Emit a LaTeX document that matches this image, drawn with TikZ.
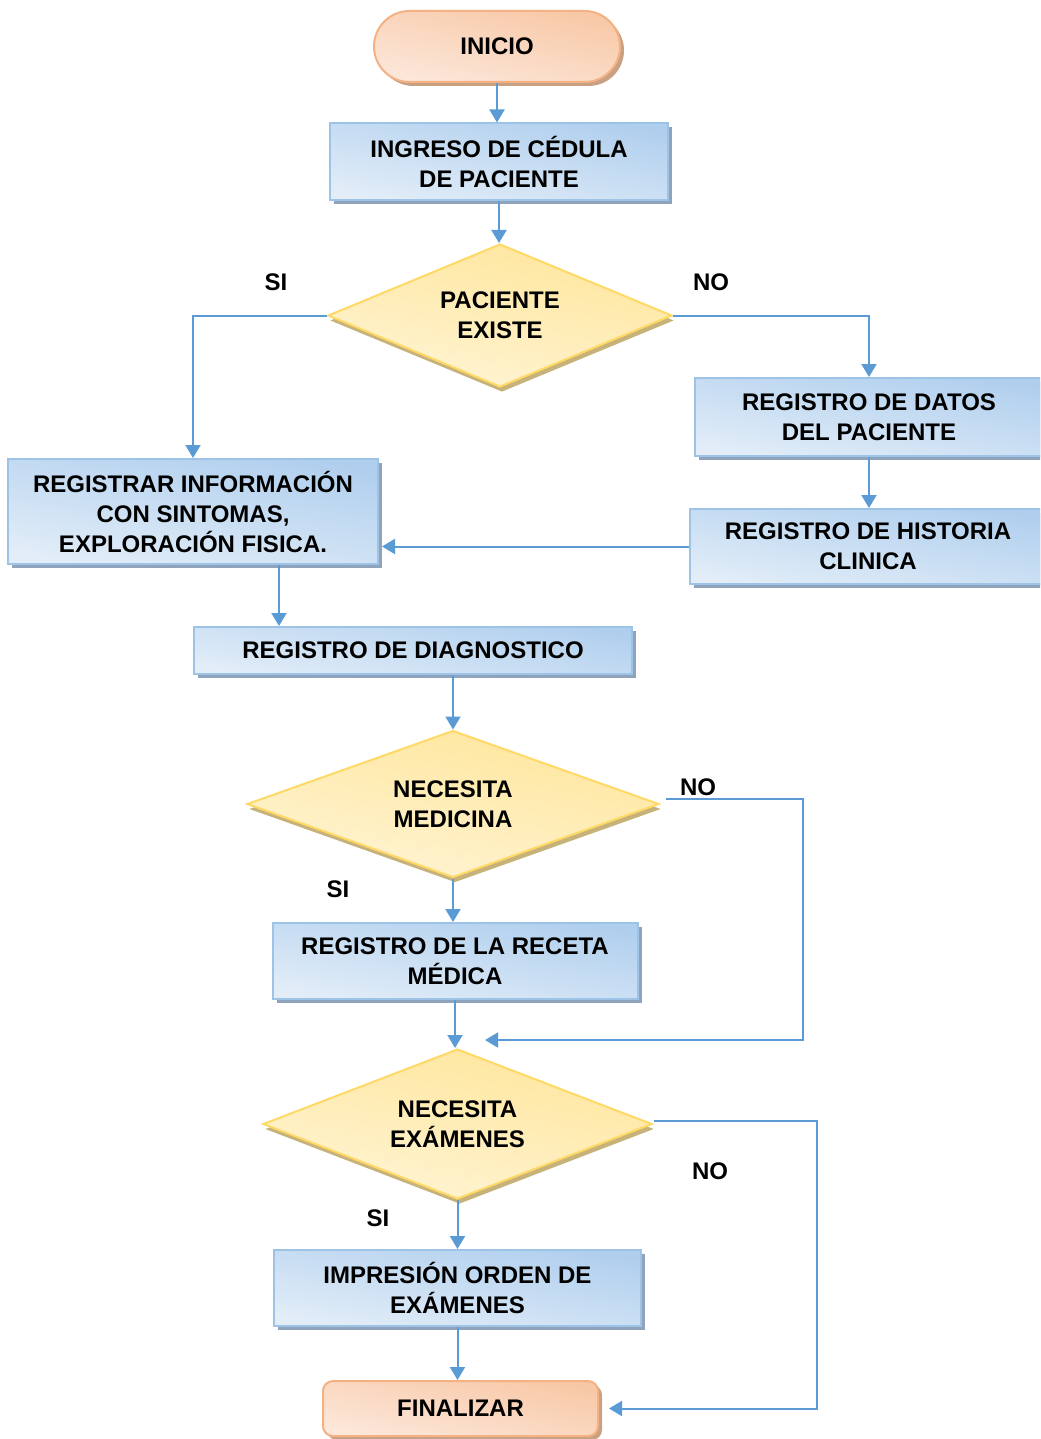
\documentclass[tikz,border=0pt]{standalone}
\usepackage{fontspec}
\setmainfont{Liberation Sans}
\usetikzlibrary{shapes.geometric,shadows,arrows.meta}

\definecolor{flow}{RGB}{91,155,213}
\definecolor{boxline}{RGB}{157,195,230}
\definecolor{boxdark}{RGB}{176,207,238}
\definecolor{boxlight}{RGB}{226,237,248}
\definecolor{boxshadow}{RGB}{143,164,188}
\definecolor{decline}{RGB}{255,217,102}
\definecolor{decdark}{RGB}{255,230,156}
\definecolor{declight}{RGB}{255,244,212}
\definecolor{decshadow}{RGB}{199,178,122}
\definecolor{termline}{RGB}{244,177,131}
\definecolor{termdark}{RGB}{248,200,166}
\definecolor{termlight}{RGB}{252,231,218}
\definecolor{termshadow}{RGB}{200,160,130}

\begin{document}
\begin{tikzpicture}[x=0.5pt,y=-0.5pt,
  every node/.style={font=\fontsize{12pt}{15pt}\selectfont\bfseries,
    align=center, inner sep=0pt},
  proc/.style={rectangle, draw=boxline, line width=1pt,
    top color=boxdark, bottom color=boxlight, shading angle=-10,
    drop shadow={shadow xshift=2pt, shadow yshift=-2pt,
      fill=boxshadow, opacity=1}},
  decision/.style={diamond, aspect=3, draw=decline, line width=1pt,
    top color=decdark, bottom color=declight, shading angle=-12,
    drop shadow={shadow xshift=1pt, shadow yshift=-2.5pt,
      fill=decshadow, opacity=1}},
  terminal/.style={rectangle, draw=termline, line width=1pt,
    top color=termdark, bottom color=termlight, shading angle=-12,
    drop shadow={shadow xshift=2pt, shadow yshift=-2pt,
      fill=termshadow, opacity=1}},
  arr/.style={draw=flow, line width=1pt,
    -{Triangle[length=6.5pt,width=7.5pt]}}
]
\path[use as bounding box, clip] (0,0) rectangle (1040,1439);

% start and end
\node[terminal, rounded corners=17.75pt, minimum width=123pt, minimum height=35.5pt]
  (inicio) at (497,46.5) {INICIO};
\node[terminal, rounded corners=5pt, minimum width=137.5pt, minimum height=27.5pt]
  (fin) at (460.5,1408.5) {FINALIZAR};

% process boxes
\node[proc, minimum width=169pt, minimum height=38.5pt]
  (ingreso) at (499,162) {INGRESO DE CÉDULA\\DE PACIENTE};
\node[proc, minimum width=185pt, minimum height=52.5pt]
  (registrar) at (193,511.5) {REGISTRAR INFORMACIÓN\\CON SINTOMAS,\\EXPLORACIÓN FISICA.};
\node[proc, minimum width=174pt, minimum height=39pt]
  (datos) at (869,417) {REGISTRO DE DATOS\\DEL PACIENTE};
\node[proc, minimum width=178pt, minimum height=37.5pt]
  (historia) at (868,546.5) {REGISTRO DE HISTORIA\\CLINICA};
\node[proc, minimum width=219pt, minimum height=23.5pt]
  (diag) at (413,650.5) {REGISTRO DE DIAGNOSTICO};
\node[proc, minimum width=182.5pt, minimum height=38pt]
  (receta) at (455,961) {REGISTRO DE LA RECETA\\MÉDICA};
\node[proc, minimum width=183.5pt, minimum height=38pt]
  (impresion) at (457.5,1288) {IMPRESIÓN ORDEN DE\\EXÁMENES};

% decisions
\node[decision, minimum width=172pt, minimum height=71.5pt]
  (dec1) at (500,315.5) {PACIENTE\\EXISTE};
\node[decision, minimum width=206pt, minimum height=73.5pt]
  (dec2) at (453,804) {NECESITA\\MEDICINA};
\node[decision, minimum width=194.5pt, minimum height=75pt]
  (dec3) at (457.5,1124) {NECESITA\\EXÁMENES};

% branch labels
\node (si1) at (276,282) {SI};
\node (no1) at (711,282) {NO};
\node (no2) at (698,787) {NO};
\node (si2) at (338,889) {SI};
\node (no3) at (710,1171) {NO};
\node (si3) at (378,1218) {SI};

% helper points for the routed connectors
\coordinate (diagx) at (279,0);
\coordinate (n2s) at (666,799);
\coordinate (n2r) at (803,0);
\coordinate (n2end) at (485,1040);
\coordinate (n3s) at (654,1121);
\coordinate (n3r) at (817,0);

% connectors
\draw[arr] (inicio.south) -- (inicio.south |- ingreso.north);
\draw[arr] (ingreso.south) -- (ingreso.south |- dec1.north);
\draw[arr] (dec1.west) -| (registrar.north);
\draw[arr] (dec1.east) -| (datos.north);
\draw[arr] (datos.south) -- (datos.south |- historia.north);
\draw[arr] (historia.west) -- ([xshift=1.5pt]historia.west -| registrar.east);
\draw[arr] (registrar.south -| diagx) -- (diag.north -| diagx);
\draw[arr] (dec2.north |- diag.south) -- (dec2.north);
\draw[arr] (n2s) -- (n2r |- n2s) -- (n2r |- n2end) -- (n2end);
\draw[arr] (n3s) -- (n3r |- n3s) -- (n3r |- fin.east) -- ([xshift=5pt]fin.east);
\draw[arr] (dec2.south) -- (dec2.south |- receta.north);
\draw[arr] (receta.south) -- (receta.south |- dec3.north);
\draw[arr] (dec3.south) -- (dec3.south |- impresion.north);
\draw[arr] (impresion.south) -- (impresion.south |- fin.north);
\end{tikzpicture}
\end{document}
